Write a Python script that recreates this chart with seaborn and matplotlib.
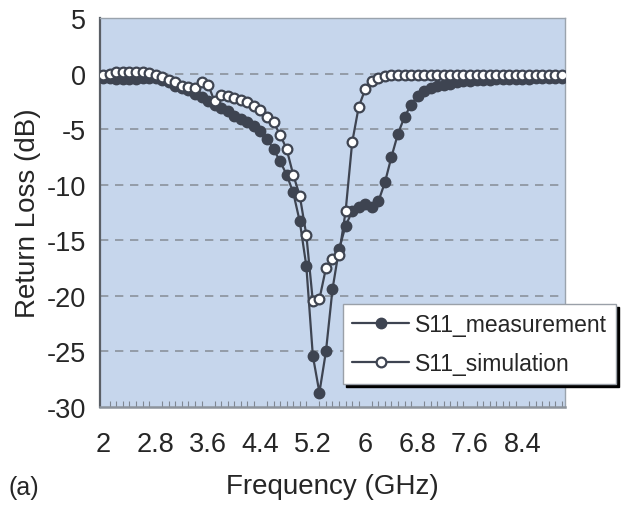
import numpy as np
import pandas as pd
import matplotlib
matplotlib.use("Agg")
import matplotlib.pyplot as plt
import seaborn as sns

# ---- data ----
freq_ghz = [round(2.0 + 0.1 * i, 1) for i in range(71)]

s11_measurement = [
    -0.4, -0.4, -0.5, -0.5, -0.5, -0.5, -0.4, -0.4, -0.4, -0.6,   # 2.0-2.9
    -0.8, -1.1, -1.3, -1.5, -1.8, -2.1, -2.5, -2.8, -3.1, -3.4,   # 3.0-3.9
    -3.8, -4.1, -4.4, -4.7, -5.2, -5.9, -6.8, -7.9, -9.1, -10.7,  # 4.0-4.9
    -13.3, -17.3, -25.4, -28.7, -25.0, -19.4, -15.8, -13.7, -12.4, -12.0,  # 5.0-5.9
    -11.7, -12.0, -11.5, -9.8, -7.5, -5.4, -3.9, -2.8, -2.0, -1.6,  # 6.0-6.9
    -1.3, -1.1, -1.0, -0.9, -0.8, -0.7, -0.7, -0.6, -0.6, -0.6,   # 7.0-7.9
    -0.5, -0.5, -0.5, -0.5, -0.5, -0.5, -0.4, -0.4, -0.4, -0.4,   # 8.0-8.9
    -0.4,                                                          # 9.0
]

s11_simulation = [
    -0.1, 0.0, 0.1, 0.1, 0.15, 0.15, 0.1, 0.05, -0.1, -0.3,       # 2.0-2.9
    -0.55, -0.8, -1.1, -1.2, -1.3, -0.8, -1.0, -2.5, -1.9, -2.0,  # 3.0-3.9
    -2.2, -2.4, -2.6, -2.9, -3.3, -3.9, -4.4, -5.5, -6.8, -9.1,   # 4.0-4.9
    -11.0, -14.5, -20.5, -20.3, -17.5, -16.7, -16.3, -12.4, -6.2, -3.0,  # 5.0-5.9
    -1.4, -0.7, -0.4, -0.25, -0.15, -0.1, -0.1, -0.1, -0.1, -0.1,  # 6.0-6.9
    -0.1, -0.1, -0.1, -0.1, -0.1, -0.1, -0.1, -0.1, -0.1, -0.1,   # 7.0-7.9
    -0.1, -0.1, -0.1, -0.1, -0.1, -0.1, -0.1, -0.1, -0.1, -0.1,   # 8.0-8.9
    -0.1,                                                          # 9.0
]

x_tick_values = [2, 2.8, 3.6, 4.4, 5.2, 6, 6.8, 7.6, 8.4]
x_tick_labels = ["2", "2.8", "3.6", "4.4", "5.2", "6", "6.8", "7.6", "8.4"]
y_tick_values = [5, 0, -5, -10, -15, -20, -25, -30]

series_labels = ["S11_measurement", "S11_simulation"]

# ---- styling ----
sns.set_theme(style="white")
plt.rcParams["font.family"] = ["Liberation Sans", "DejaVu Sans"]

dark = "#3e4451"
bg = "#c6d6ec"
text_color = "#262626"

fig = plt.figure(figsize=(6.37, 5.06), dpi=100)
ax = fig.add_axes([100 / 637, 1 - 408 / 506, 465 / 637, 389 / 506])
ax.set_facecolor(bg)

df = pd.DataFrame({"freq": freq_ghz,
                   "meas": s11_measurement,
                   "sim": s11_simulation})

sns.lineplot(data=df, x="freq", y="meas", ax=ax, color=dark, lw=1.6,
             marker="o", markersize=7.5, markerfacecolor=dark,
             markeredgecolor=dark, markeredgewidth=1.0,
             label=series_labels[0], sort=False, zorder=3)
sns.lineplot(data=df, x="freq", y="sim", ax=ax, color=dark, lw=1.6,
             marker="o", markersize=7.0, markerfacecolor="white",
             markeredgecolor=dark, markeredgewidth=1.6,
             label=series_labels[1], sort=False, zorder=4)

ax.set_xlim(1.95, 9.05)
ax.set_ylim(-30, 5)

# grid: dashed horizontal lines
for yv in y_tick_values:
    if -30 < yv < 5:
        ax.axhline(yv, color="#8b929c", lw=1.2, ls=(0, (5, 4)), zorder=1)

ax.set_yticks(y_tick_values)
ax.set_yticklabels([str(v) for v in y_tick_values])
ax.set_xticks(x_tick_values)
ax.set_xticklabels(x_tick_labels)
ax.set_xticks(freq_ghz, minor=True)
ax.tick_params(axis="x", which="major", length=0, pad=17,
               labelsize=19.5, labelcolor=text_color)
ax.tick_params(axis="x", which="minor", direction="in", length=4,
               width=0.8, color="#7f8792", bottom=True)
ax.tick_params(axis="y", which="major", length=0, pad=10,
               labelsize=19.5, labelcolor=text_color)

for side in ["top", "right"]:
    ax.spines[side].set_color("#9aa3ad")
    ax.spines[side].set_linewidth(1.0)
ax.spines["left"].set_color("#5a5f66")
ax.spines["left"].set_linewidth(1.6)
ax.spines["bottom"].set_color("#8c939c")
ax.spines["bottom"].set_linewidth(1.8)

ax.set_xlabel("Frequency (GHz)", fontsize=20, color=text_color, labelpad=12)
ax.set_ylabel("Return Loss (dB)", fontsize=20, color=text_color, labelpad=4)

fig.text(8 / 637, 1 - 488 / 506, "(a)", fontsize=18, color=text_color,
         ha="left", va="center")

leg = ax.legend(loc="upper left", bbox_to_anchor=(343 / 637, 1 - 305 / 506),
                bbox_transform=fig.transFigure, fontsize=16.5,
                frameon=True, fancybox=False, framealpha=1,
                edgecolor="#9aa0a8", handlelength=2.5, handletextpad=0.25,
                labelspacing=0.7, borderpad=0.4, borderaxespad=0,
                shadow={"color": "black", "alpha": 1.0})
leg.get_frame().set_linewidth(1.0)
for t in leg.get_texts():
    t.set_color(text_color)
leg.set_zorder(10)

fig.savefig("out.png", dpi=100)
